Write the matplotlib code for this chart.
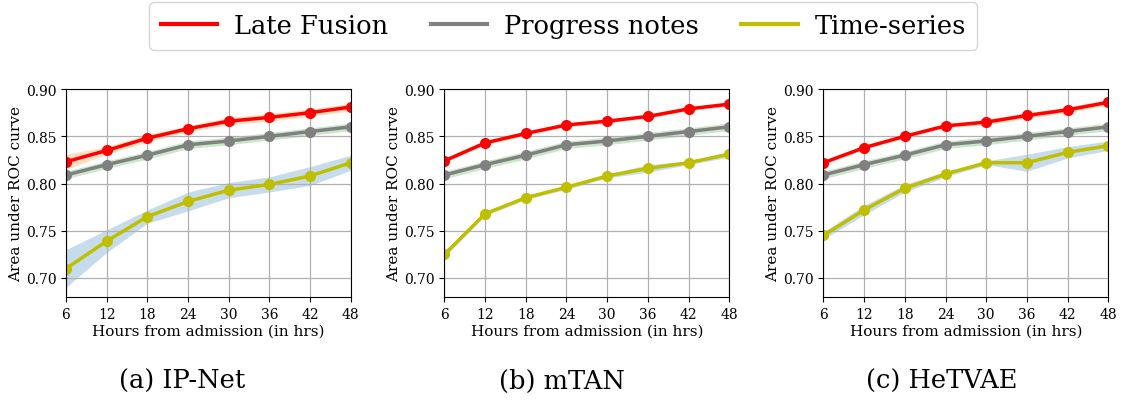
import numpy as np
import matplotlib.pyplot as plt

plt.rcParams['font.family'] = 'DejaVu Serif'

hours = [6, 12, 18, 24, 30, 36, 42, 48]
panels = ['(a) IP-Net', '(b) mTAN', '(c) HeTVAE']

# mean AUROC per panel
late_fusion = [
    [0.823, 0.835, 0.848, 0.858, 0.866, 0.870, 0.875, 0.881],
    [0.824, 0.843, 0.853, 0.862, 0.866, 0.871, 0.879, 0.884],
    [0.822, 0.838, 0.850, 0.861, 0.865, 0.872, 0.878, 0.886],
]
progress_notes = [
    [0.809, 0.820, 0.830, 0.841, 0.845, 0.850, 0.855, 0.860],
    [0.809, 0.820, 0.830, 0.841, 0.845, 0.850, 0.855, 0.860],
    [0.809, 0.820, 0.830, 0.841, 0.845, 0.850, 0.855, 0.860],
]
time_series = [
    [0.710, 0.739, 0.765, 0.781, 0.793, 0.799, 0.808, 0.822],
    [0.725, 0.768, 0.785, 0.796, 0.808, 0.816, 0.822, 0.831],
    [0.745, 0.772, 0.795, 0.810, 0.822, 0.822, 0.833, 0.840],
]

# standard deviations
late_fusion_std = [
    [0.008, 0.004, 0.004, 0.003, 0.004, 0.004, 0.004, 0.004],
    [0.002, 0.002, 0.002, 0.002, 0.002, 0.002, 0.002, 0.002],
    [0.002, 0.002, 0.002, 0.002, 0.003, 0.003, 0.003, 0.003],
]
progress_notes_std = [
    [0.004, 0.004, 0.004, 0.004, 0.004, 0.004, 0.004, 0.004],
    [0.004, 0.004, 0.004, 0.004, 0.004, 0.004, 0.004, 0.004],
    [0.004, 0.004, 0.004, 0.004, 0.004, 0.004, 0.004, 0.004],
]
time_series_std = [
    [0.020, 0.012, 0.007, 0.010, 0.008, 0.008, 0.010, 0.008],
    [0.003, 0.002, 0.002, 0.002, 0.002, 0.004, 0.002, 0.003],
    [0.004, 0.005, 0.004, 0.003, 0.002, 0.009, 0.006, 0.005],
]

fig = plt.figure(figsize=(11.28, 4.02), dpi=100)
lefts = [0.0585, 0.394, 0.730]
width = 0.2525
caption_x = [0.1613, 0.4982, 0.8351]

x = np.array(hours)
lines = []
for i in range(3):
    ax = fig.add_axes([lefts[i], 0.259, width, 0.517])
    series = [
        (late_fusion[i], late_fusion_std[i], 'red', 'tab:orange', 'Late Fusion'),
        (progress_notes[i], progress_notes_std[i], 'gray', 'tab:green', 'Progress notes'),
        (time_series[i], time_series_std[i], 'y', 'tab:blue', 'Time-series'),
    ]
    for mean, std, c, fc, label in series:
        m = np.array(mean)
        s = np.array(std)
        ax.fill_between(x, m - s, m + s, color=fc, alpha=0.25, linewidth=0)
        ln, = ax.plot(x, m, color=c, marker='o', linewidth=2.5, markersize=7, label=label)
        if i == 0:
            lines.append(ln)
    ax.set_xlim(6, 48)
    ax.set_ylim(0.68, 0.90)
    ax.set_xticks(hours)
    ax.set_yticks([0.70, 0.75, 0.80, 0.85, 0.90])
    ax.set_yticklabels(['0.70', '0.75', '0.80', '0.85', '0.90'])
    ax.tick_params(labelsize=10)
    ax.grid(True, color='#b0b0b0', linewidth=0.9)
    ax.set_xlabel('Hours from admission (in hrs)', fontsize=11, labelpad=2)
    ax.set_ylabel('Area under ROC curve', fontsize=11, labelpad=2)
    fig.text(caption_x[i], 0.052, panels[i], ha='center', va='center', fontsize=18.5)

leg = fig.legend(handles=lines, loc='upper center', bbox_to_anchor=(0.4995, 0.993), ncol=3,
                 fontsize=18.5, frameon=True, handlelength=2.2, handletextpad=0.65,
                 columnspacing=1.65, borderpad=0.45, borderaxespad=0)
for h in leg.get_lines():
    h.set_marker('')
    h.set_linewidth(3)

fig.savefig('out.png', dpi=100)
